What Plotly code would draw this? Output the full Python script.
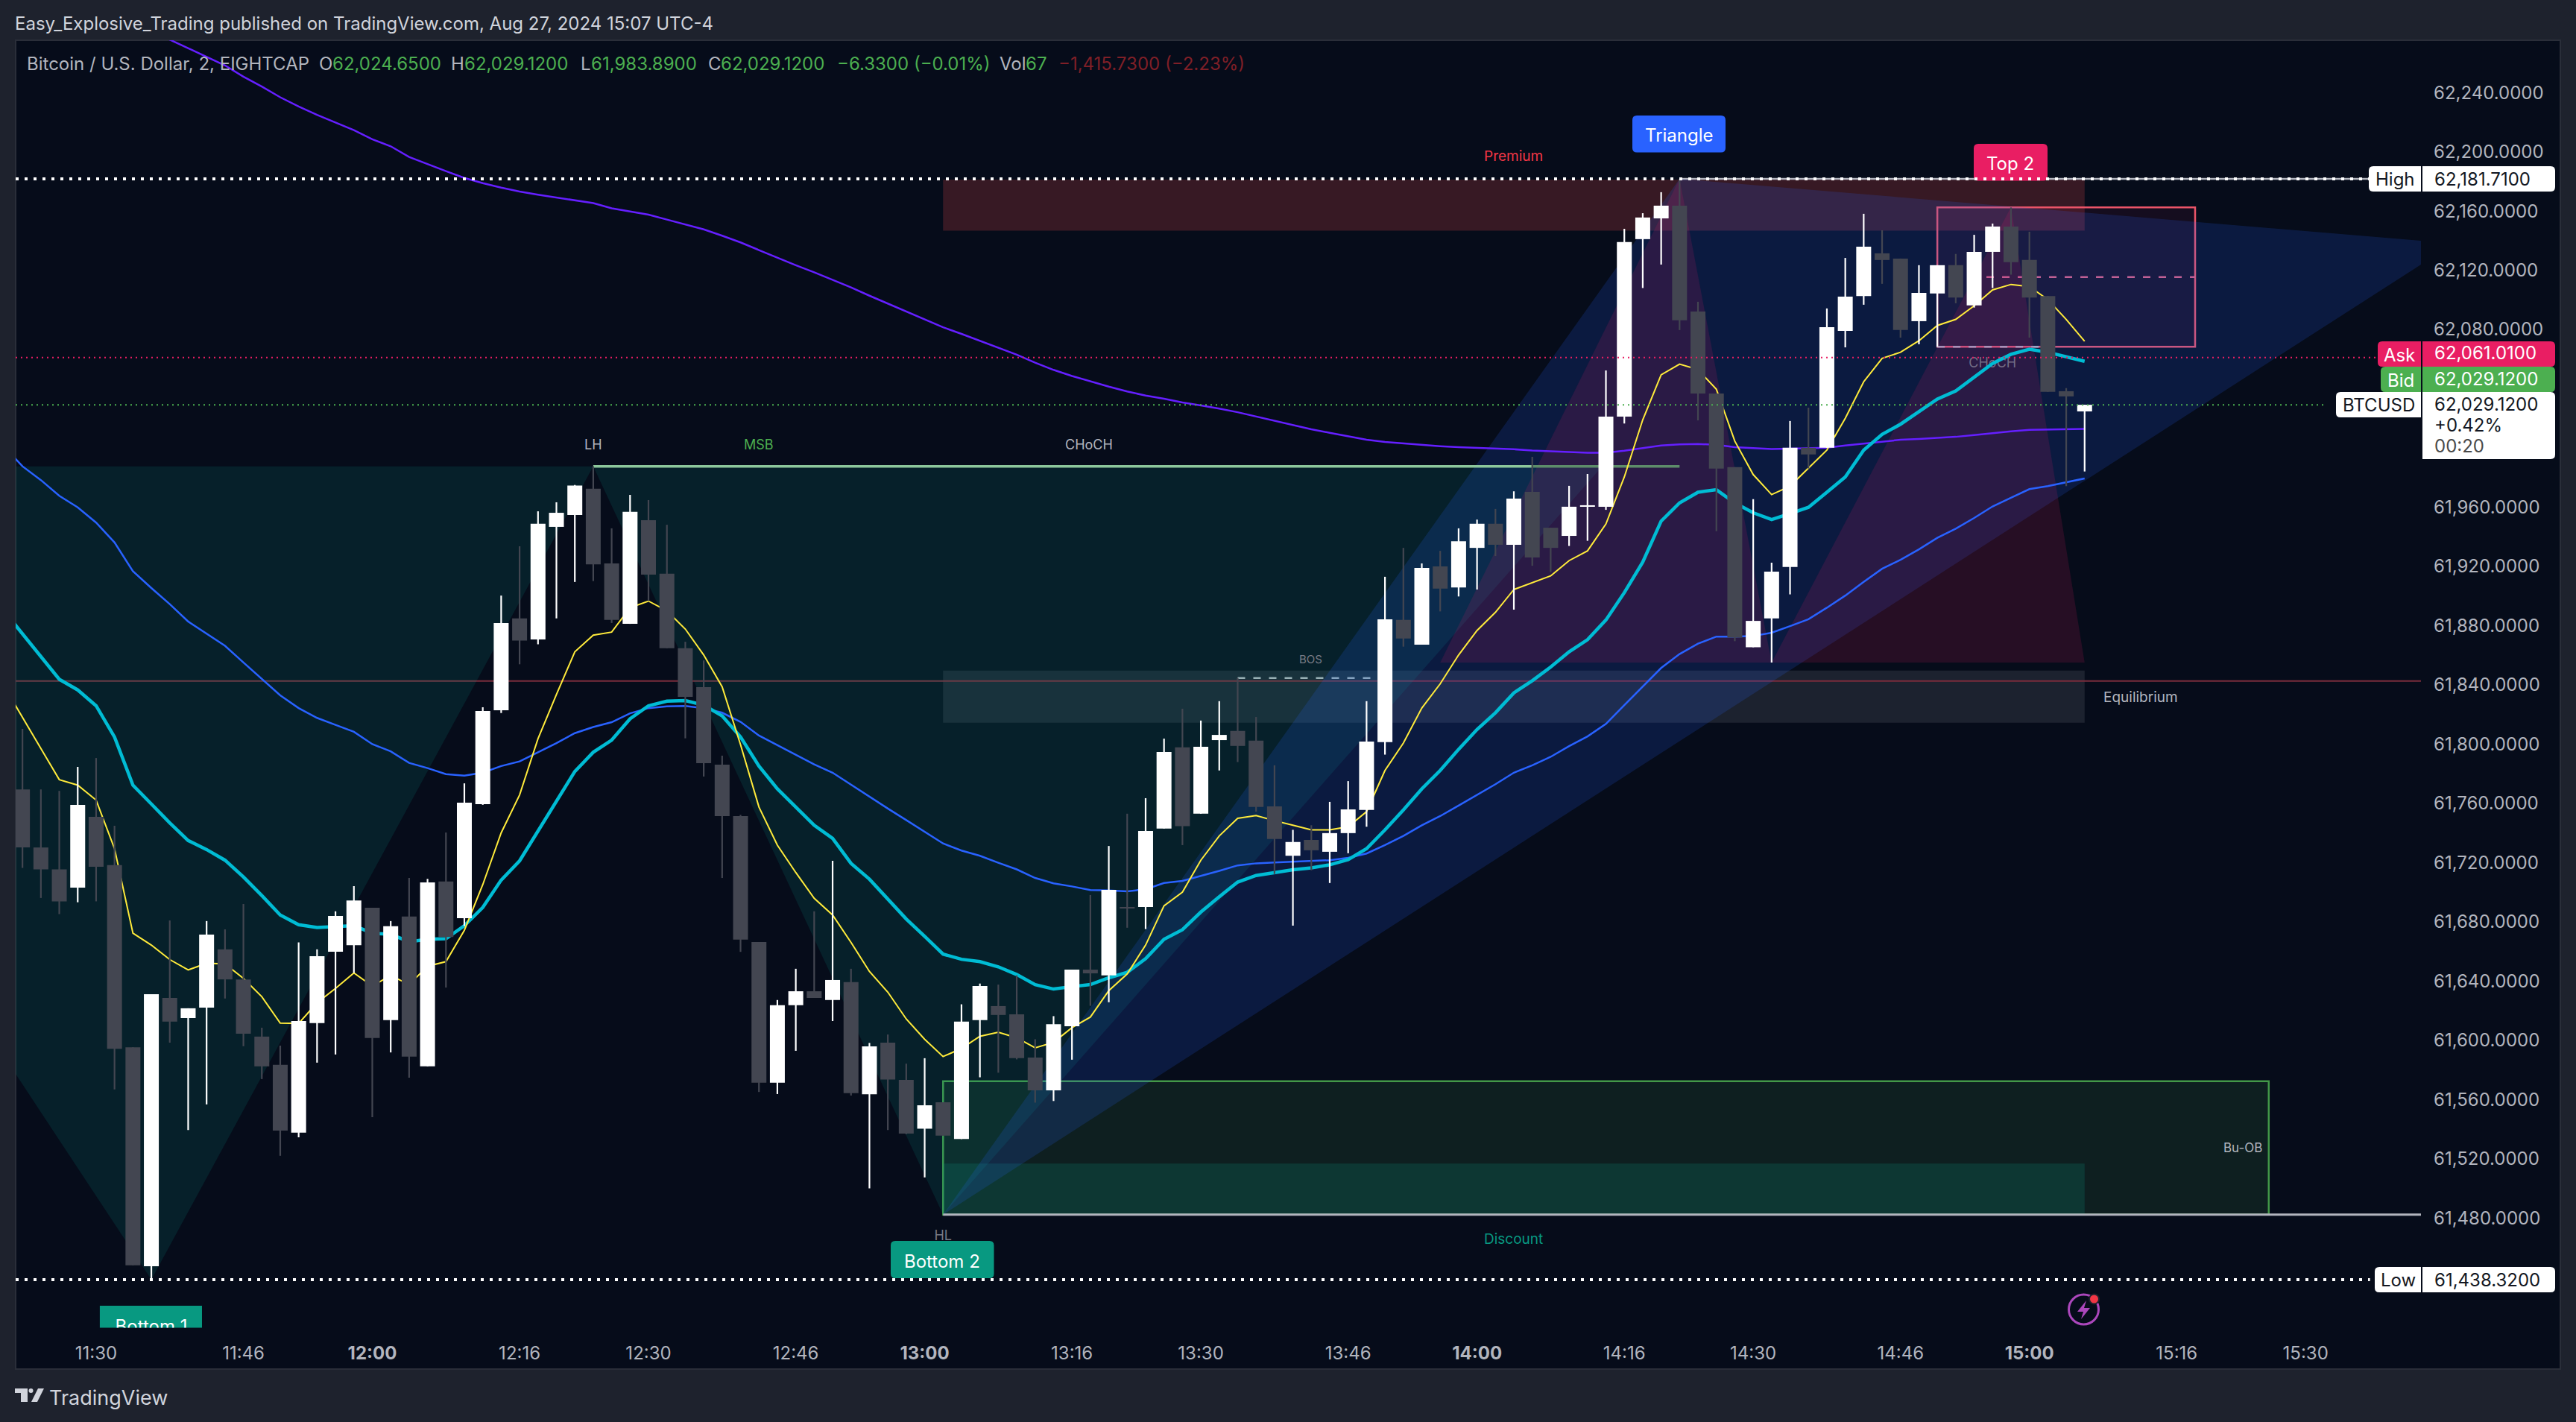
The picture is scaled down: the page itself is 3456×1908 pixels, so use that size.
#! /usr/bin/env python
#-*- coding: utf8 -*-

import pandas as pd
import plotly.graph_objects as go

W = 3456
H = 1908
# chart frame in page pixels
PANEL_L, PANEL_R, PANEL_T, PANEL_B = 21, 3435, 54, 1837
PANE_R = 3248
PANE_B = 1781.5

PANEL = "#060c1a"
FRAME = "#1e222d"
LABEL = "#b2b5be"
GREEN = "#4caf50"
PINK = "#e91e63"
TEAL = "#089981"
UP = "#ffffff"
DOWN = "#434651"
FONT = "Inter"

candle_open = [
    61769.4, 61730.2, 61715.4, 61703.1, 61750.9, 61718.3, 61595.3, 61447.4, 61628.6, 61615.0,
    61622.0, 61661.4, 61641.1, 61602.5, 61583.4, 61537.6, 61611.6, 61659.8, 61664.2, 61689.5,
    61613.6, 61683.6, 61582.4, 61707.2, 61682.5, 61759.4, 61822.8, 61884.9, 61870.7, 61946.7,
    61954.7, 61972.4, 61922.0, 61881.2, 61951.2, 61915.1, 61864.7, 61838.4, 61786.1, 61751.4,
    61666.3, 61571.3, 61623.7, 61633.1, 61627.2, 61639.3, 61563.5, 61598.4, 61573.3, 61540.3,
    61558.1, 61533.3, 61613.6, 61623.1, 61617.5, 61588.3, 61566.2, 61609.5, 61647.7, 61643.8,
    61690.0, 61690.0, 61743.0, 61797.8, 61753.0, 61802.7, 61808.9, 61802.3, 61757.9, 61724.6,
    61735.3, 61727.3, 61739.9, 61755.5, 61801.3, 61883.9, 61867.2, 61920.0, 61905.8, 61932.5,
    61948.8, 61934.6, 61970.3, 61946.1, 61940.6, 61960.5, 61960.3, 62021.1, 62141.0, 62155.0,
    62163.6, 62092.1, 62036.7, 61987.0, 61865.4, 61884.9, 61919.6, 62000.1, 62000.1, 62079.0,
    62102.6, 62131.4, 62127.9, 62085.6, 62104.3, 62123.4, 62096.3, 62132.4, 62149.5, 62126.9,
    62102.6, 62038.3, 62024.65,
]
candle_high = [
    61810.3, 61769.4, 61768.4, 61784.6, 61790.6, 61744.8, 61595.3, 61631.1, 61680.9, 61621.6,
    61680.5, 61674.9, 61692.0, 61608.5, 61596.4, 61666.1, 61661.4, 61687.1, 61704.1, 61689.5,
    61680.5, 61709.6, 61709.0, 61740.3, 61773.5, 61824.9, 61900.3, 61933.6, 61957.2, 61963.3,
    61975.0, 61987.6, 61945.7, 61968.3, 61964.8, 61948.1, 61869.1, 61856.5, 61792.2, 61752.2,
    61666.3, 61627.2, 61648.3, 61687.1, 61721.2, 61648.3, 61598.2, 61603.9, 61584.2, 61587.9,
    61558.1, 61624.3, 61638.3, 61637.6, 61643.8, 61600.7, 61616.3, 61647.7, 61698.1, 61731.2,
    61753.0, 61763.5, 61803.7, 61823.9, 61815.9, 61829.0, 61844.6, 61818.3, 61785.7, 61742.1,
    61745.2, 61761.0, 61775.0, 61829.0, 61913.0, 61932.5, 61922.0, 61930.5, 61945.7, 61951.6,
    61958.8, 61970.7, 61994.0, 61946.1, 61974.4, 61982.4, 62052.3, 62148.0, 62158.5, 62172.7,
    62181.71, 62098.7, 62036.7, 61987.0, 61965.4, 61922.5, 62018.2, 62027.2, 62094.2, 62128.3,
    62158.1, 62147.0, 62127.9, 62123.4, 62123.4, 62131.0, 62143.9, 62151.5, 62162.4, 62146.0,
    62102.6, 62040.4, 62029.12,
]
candle_low = [
    61716.4, 61696.1, 61685.2, 61693.2, 61693.8, 61566.8, 61448.0, 61438.32, 61598.4, 61539.4,
    61556.7, 61628.2, 61596.0, 61573.8, 61522.0, 61534.5, 61584.9, 61590.4, 61645.5, 61548.1,
    61591.8, 61574.8, 61582.4, 61635.6, 61677.2, 61759.0, 61821.0, 61853.9, 61867.4, 61884.9,
    61909.5, 61910.1, 61881.8, 61881.2, 61896.6, 61864.7, 61803.9, 61778.1, 61709.6, 61659.7,
    61565.1, 61563.7, 61592.9, 61628.6, 61613.0, 61562.7, 61500.0, 61539.4, 61536.6, 61507.4,
    61535.6, 61533.3, 61575.0, 61578.1, 61587.1, 61557.9, 61559.0, 61586.9, 61623.3, 61625.7,
    61676.0, 61675.1, 61743.0, 61731.8, 61753.0, 61782.2, 61787.9, 61754.4, 61712.3, 61677.4,
    61714.8, 61706.2, 61726.3, 61744.2, 61792.9, 61865.8, 61867.2, 61889.6, 61899.7, 61904.4,
    61927.0, 61890.8, 61920.4, 61916.3, 61933.8, 61937.3, 61958.2, 62016.5, 62108.0, 62123.8,
    62079.6, 62018.6, 61943.8, 61869.5, 61865.4, 61855.1, 61901.1, 61986.1, 62000.1, 62067.9,
    62096.7, 62110.8, 62074.5, 62070.0, 62068.3, 62097.7, 62094.8, 62108.0, 62117.0, 62074.5,
    62037.9, 61974.2, 61984.1,
]
candle_close = [
    61730.2, 61715.4, 61693.8, 61758.9, 61717.2, 61594.3, 61448.0, 61631.1, 61612.6, 61621.6,
    61671.4, 61641.1, 61604.4, 61582.4, 61539.0, 61613.0, 61656.8, 61684.0, 61694.4, 61601.5,
    61677.0, 61589.0, 61706.6, 61669.8, 61760.4, 61822.4, 61881.8, 61869.9, 61948.8, 61956.2,
    61974.6, 61921.4, 61883.9, 61956.8, 61914.5, 61864.7, 61831.9, 61787.1, 61751.4, 61668.0,
    61571.3, 61623.7, 61633.1, 61628.6, 61640.7, 61564.3, 61595.9, 61573.5, 61537.0, 61556.1,
    61535.6, 61612.6, 61636.6, 61617.1, 61588.0, 61566.2, 61610.9, 61647.7, 61645.2, 61701.6,
    61689.1, 61741.3, 61794.7, 61744.6, 61798.2, 61806.2, 61798.8, 61757.5, 61735.9, 61733.9,
    61728.3, 61739.9, 61755.9, 61801.7, 61884.3, 61871.3, 61919.0, 61905.0, 61937.0, 61948.8,
    61934.6, 61965.8, 61926.0, 61932.5, 61960.3, 61961.3, 62021.1, 62139.0, 62155.6, 62163.6,
    62086.2, 62036.7, 61986.1, 61871.9, 61883.2, 61916.5, 62000.1, 61995.6, 62081.5, 62102.2,
    62135.9, 62126.9, 62079.6, 62104.7, 62123.4, 62101.6, 62132.4, 62149.5, 62125.4, 62101.6,
    62037.9, 62034.8, 62029.12,
]

# moving averages, read bar by bar, first bar 11:20
ma_yellow = [
    61839.1, 61818.1, 61796.9, 61776.0, 61772.3, 61762.2, 61729.4, 61672.3, 61664.3, 61654.5,
    61647.5, 61652.0, 61651.6, 61641.8, 61629.4, 61611.6, 61611.4, 61625.3, 61635.0, 61645.5,
    61636.6, 61643.8, 61637.6, 61650.0, 61653.1, 61674.3, 61705.1, 61740.1, 61765.7, 61803.7,
    61833.5, 61862.3, 61873.6, 61875.6, 61892.1, 61896.6, 61890.0, 61877.7, 61860.2, 61838.7,
    61799.6, 61757.5, 61731.8, 61713.3, 61695.9, 61684.6, 61666.1, 61646.5, 61632.5, 61614.4,
    61600.7, 61589.0, 61594.5, 61602.7, 61605.4, 61601.7, 61594.9, 61598.6, 61608.5, 61615.7,
    61633.5, 61644.8, 61664.3, 61690.8, 61700.0, 61721.6, 61738.0, 61749.9, 61751.8, 61748.3,
    61745.2, 61742.1, 61742.1, 61744.2, 61754.4, 61782.2, 61800.7, 61824.3, 61840.7, 61860.2,
    61876.7, 61889.0, 61904.4, 61908.9, 61913.6, 61923.9, 61930.5, 61948.6, 61980.4, 62019.0,
    62049.4, 62056.6, 62052.9, 62039.6, 62004.6, 61982.0, 61968.5, 61974.2, 61986.1, 61998.5,
    62020.0, 62044.7, 62060.5, 62064.6, 62072.4, 62082.7, 62086.8, 62096.0, 62106.7, 62110.4,
    62109.0, 62100.2, 62086.8, 62072.0,
]
ma_cyan = [
    61889.8, 61874.2, 61859.2, 61843.8, 61836.6, 61825.9, 61804.8, 61772.3, 61759.6, 61746.8,
    61734.9, 61728.8, 61721.6, 61710.3, 61697.7, 61684.6, 61678.0, 61676.2, 61676.8, 61677.4,
    61672.3, 61671.6, 61666.5, 61668.2, 61668.6, 61677.4, 61689.7, 61708.2, 61721.2, 61741.1,
    61761.6, 61781.5, 61794.5, 61802.7, 61817.1, 61825.9, 61829.0, 61829.4, 61826.3, 61819.1,
    61804.8, 61785.2, 61769.8, 61757.5, 61745.2, 61736.4, 61719.5, 61708.8, 61695.5, 61681.9,
    61670.2, 61658.2, 61654.7, 61653.1, 61649.6, 61644.4, 61637.6, 61634.6, 61636.2, 61637.6,
    61642.2, 61645.9, 61655.1, 61668.2, 61674.7, 61686.6, 61696.9, 61706.8, 61711.3, 61713.3,
    61715.2, 61716.4, 61718.5, 61722.0, 61729.4, 61742.1, 61755.5, 61769.8, 61782.2, 61796.5,
    61809.9, 61821.2, 61834.6, 61842.8, 61852.0, 61862.3, 61870.5, 61883.8, 61902.3, 61922.9,
    61950.6, 61962.9, 61970.1, 61971.8, 61962.9, 61956.2, 61951.6, 61955.7, 61959.9, 61970.1,
    61980.4, 61998.5, 62009.2, 62016.0, 62024.8, 62033.0, 62038.5, 62047.8, 62057.0, 62063.2,
    62066.7, 62064.6, 62061.7, 62058.5,
]
ma_blue = [
    62001.0, 61987.6, 61978.3, 61967.7, 61959.9, 61949.6, 61936.2, 61916.7, 61905.4, 61894.5,
    61882.8, 61874.6, 61866.4, 61855.1, 61843.8, 61832.9, 61824.3, 61817.7, 61813.0, 61808.3,
    61800.0, 61795.1, 61787.3, 61783.8, 61779.7, 61778.7, 61780.7, 61785.2, 61788.3, 61794.5,
    61800.7, 61807.4, 61811.5, 61814.8, 61820.8, 61824.3, 61825.5, 61825.7, 61824.3, 61821.2,
    61815.0, 61805.8, 61799.2, 61793.0, 61786.3, 61780.7, 61772.5, 61764.3, 61756.5, 61748.7,
    61740.9, 61732.9, 61728.1, 61724.6, 61719.9, 61715.4, 61709.6, 61706.0, 61703.9, 61701.4,
    61701.2, 61700.6, 61702.0, 61706.2, 61707.6, 61710.9, 61714.4, 61718.1, 61719.5, 61720.1,
    61720.5, 61721.2, 61721.6, 61723.2, 61726.1, 61731.8, 61738.0, 61745.2, 61751.4, 61758.5,
    61765.7, 61772.9, 61780.7, 61785.7, 61791.4, 61798.6, 61805.2, 61813.6, 61826.3, 61839.1,
    61851.4, 61860.8, 61867.8, 61872.6, 61872.6, 61873.0, 61875.2, 61879.7, 61884.3, 61892.1,
    61900.3, 61909.5, 61918.4, 61924.5, 61931.5, 61939.3, 61945.5, 61952.7, 61960.5, 61966.4,
    61972.2, 61974.2, 61976.7, 61979.4,
]
# purple enters through the top of the pane, first bar 11:36
ma_purple = [
    62281.5, 62275.8, 62270.0, 62264.1, 62258.3, 62250.7, 62244.0, 62236.8, 62230.6, 62224.9,
    62219.9, 62214.6, 62208.4, 62203.7, 62196.5, 62191.6, 62186.9, 62182.3, 62178.8, 62175.8,
    62173.1, 62171.0, 62169.0, 62167.1, 62165.3, 62161.8, 62159.5, 62157.5, 62154.2, 62150.9,
    62147.6, 62143.3, 62138.8, 62133.6, 62128.3, 62123.4, 62118.6, 62113.5, 62108.4, 62102.8,
    62097.5, 62092.1, 62086.8, 62081.5, 62077.0, 62072.4, 62067.9, 62063.0, 62057.6, 62052.7,
    62048.6, 62044.9, 62041.4, 62038.1, 62035.4, 62033.2, 62030.7, 62028.7, 62026.6, 62024.1,
    62021.3, 62018.4, 62015.5, 62012.6, 62010.2, 62007.7, 62005.5, 62004.0, 62003.0, 62002.0,
    62001.2, 62000.5, 62000.1, 61999.7, 61999.1, 61998.3, 61997.7, 61997.2, 61996.8, 61996.8,
    61998.1, 61999.9, 62001.6, 62002.4, 62002.6, 62002.2, 62000.5, 61999.9, 61999.3, 61999.5,
    61999.7, 62000.1, 62001.6, 62003.0, 62004.4, 62005.5, 62006.1, 62006.7, 62007.5, 62008.7,
    62010.0, 62011.2, 62012.2, 62012.4, 62012.6, 62012.9,
]

# price levels
high_price = 62181.71
low_price = 61438.32
ask_price = 62061.01
bid_price = 62029.12
eq_price = 61842.6
msb_price = 61987.6
hl_price = 61482.3
top_price = 62162.6
bos_price = 61844.6
fib_low = 61855.1

# 62,040 / 62,000 / 61,440 are covered by the price tags on the scale
price_ticks = [61480, 61520, 61560, 61600, 61640, 61680, 61720, 61760, 61800, 61840, 61880,
               61920, 61960, 62080, 62120, 62160, 62200, 62240]
time_ticks = ["11:30", "11:46", "12:00", "12:16", "12:30", "12:46", "13:00", "13:16", "13:30",
              "13:46", "14:00", "14:16", "14:30", "14:46", "15:00", "15:16", "15:30"]
hour_ticks = ["12:00", "13:00", "14:00", "15:00"]

DAY = "2024-08-27 "
X_START = DAY + "11:21:15.6"
X_END = DAY + "15:42:32"
Y_BOT = 61405.9
Y_TOP = 62275.3
BODY_MS = 97200  # body width, 81% of a 2 minute bar


def px_x(px):
    return (px - PANEL_L) / (PANEL_R - PANEL_L)


def px_y(py):
    return 1 - (py - PANEL_T) / (PANEL_B - PANEL_T)


def clock(s):
    return DAY + s


shapes = []
notes = []


def rect_px(x0, y0, x1, y1, color):
    shapes.append(dict(type="rect", xref="paper", yref="paper", x0=px_x(x0), x1=px_x(x1),
                       y0=px_y(y0), y1=px_y(y1), fillcolor=color, line_width=0, layer="above"))


def box_px(x0, y0, x1, y1, color, r=6, left=True, right=True):
    # rounded tag, page pixels
    rl = r if left else 0
    rr = r if right else 0
    pts = [
        "M%f,%f" % (px_x(x0 + rl), px_y(y0)),
        "L%f,%f" % (px_x(x1 - rr), px_y(y0)),
        "Q%f,%f %f,%f" % (px_x(x1), px_y(y0), px_x(x1), px_y(y0 + rr)),
        "L%f,%f" % (px_x(x1), px_y(y1 - rr)),
        "Q%f,%f %f,%f" % (px_x(x1), px_y(y1), px_x(x1 - rr), px_y(y1)),
        "L%f,%f" % (px_x(x0 + rl), px_y(y1)),
        "Q%f,%f %f,%f" % (px_x(x0), px_y(y1), px_x(x0), px_y(y1 - rl)),
        "L%f,%f" % (px_x(x0), px_y(y0 + rl)),
        "Q%f,%f %f,%f Z" % (px_x(x0), px_y(y0), px_x(x0 + rl), px_y(y0)),
    ]
    shapes.append(dict(type="path", xref="paper", yref="paper", path=" ".join(pts),
                       fillcolor=color, line_width=0, layer="above"))


def poly_px(points, color):
    p = "M" + " L".join("%f,%f" % (px_x(a), px_y(b)) for a, b in points) + " Z"
    shapes.append(dict(type="path", xref="paper", yref="paper", path=p,
                       fillcolor=color, line_width=0, layer="above"))


def text_px(px, py, s, size=24, color=LABEL, anchor="left"):
    notes.append(dict(xref="paper", yref="paper", x=px_x(px), y=px_y(py), text=s, showarrow=False,
                      xanchor=anchor, yanchor="middle", borderpad=0, borderwidth=0,
                      font=dict(family=FONT, size=size, color=color)))


def zone(t0, t1, v0, v1, color, line=None):
    shapes.append(dict(type="rect", xref="x", yref="y", x0=clock(t0), x1=clock(t1), y0=v0, y1=v1,
                       fillcolor=color, line=line or dict(width=0), layer="below"))


def level(t0, t1, v, color, width=2, dash="solid", layer="below"):
    shapes.append(dict(type="line", xref="x", yref="y", x0=t0, x1=t1, y0=v, y1=v, layer=layer,
                       line=dict(color=color, width=width, dash=dash)))


fig = go.Figure()


def fill_poly(times, prices, color):
    fig.add_trace(go.Scatter(x=[clock(t) for t in times], y=prices, mode="lines", fill="toself",
                             fillcolor=color, line=dict(width=0), hoverinfo="skip", showlegend=False))


def price_text(t, v, s, size, color):
    fig.add_trace(go.Scatter(x=[clock(t)], y=[v], mode="text", text=[s], hoverinfo="skip", showlegend=False,
                             textfont=dict(family=FONT, size=size, color=color)))


# frame
shapes.append(dict(type="rect", xref="paper", yref="paper", x0=0, x1=1, y0=0, y1=1, fillcolor=PANEL,
                   line=dict(color="#2a2e39", width=2), layer="below"))

# order blocks and premium / discount zones
zone("13:02", "15:06", 62181.2, 62146.7, "rgba(255,82,82,0.2)")
zone("13:02", "15:06", 61849.6, 61814.4, "rgba(120,123,134,0.2)")
zone("13:02", "15:26", 61572.3, 61482.3, "rgba(76,175,80,0.12)", dict(color="rgba(76,175,80,0.85)", width=2.5))
zone("13:02", "15:06", 61516.8, 61482.6, "rgba(8,153,129,0.2)")
zone("14:50", "15:18", 62162.4, 62068.3, "rgba(233,30,99,0.07)", dict(color="#ea5468", width=2.5))

level(X_START, DAY + "15:42:32", eq_price, "#7a2c3c", 2)
level(clock("13:02"), X_END, hl_price, LABEL, 3)
level(clock("14:22"), X_END, high_price, LABEL, 2.5)
level(clock("14:55:20"), clock("15:18"), 62115.4, "#df5f80", 2.5, "10px,11px")
level(clock("14:50"), clock("15:01"), 62068.3, LABEL, 2.5, "10px,11px")
level(clock("13:34"), clock("13:50"), bos_price, LABEL, 2.5, "10px,11px")

# harmonic pattern fills
fill_poly(["11:21:15", "12:24", "11:36", "11:21:15"], [msb_price, msb_price, low_price, 61577.3], "rgba(8,150,136,0.15)")
fill_poly(["12:24", "14:13:36", "13:02"], [msb_price, msb_price, hl_price], "rgba(8,150,136,0.15)")
fill_poly(["13:02", "14:22", "15:42:32", "15:42:32"], [hl_price, high_price, 62139.9, 62123.8], "rgba(41,98,255,0.17)")
fill_poly(["13:56", "14:22", "14:32"], [fib_low, high_price, fib_low], "rgba(233,30,99,0.14)")
fill_poly(["14:32", "14:58", "15:06"], [fib_low, top_price, fib_low], "rgba(233,30,99,0.14)")

# small labels that sit under the lines or the tags
price_text("14:56", 62056.4, "CHoCH", 18, "rgba(178,181,190,0.55)")
price_text("13:02", 61467.1, "HL", 18, "#787b86")
price_text("11:36", 61405.5, "Bottom 1", 24, "#ffffff")

bar_times = pd.date_range(DAY + "11:22", periods=len(candle_open), freq="2min")
ma_times = pd.date_range(DAY + "11:20", periods=len(ma_yellow), freq="2min")
purple_times = pd.date_range(DAY + "11:36", periods=len(ma_purple), freq="2min")

fig.add_trace(go.Scatter(x=[clock("12:24"), clock("14:06")], y=[msb_price, msb_price], mode="lines",
                         line=dict(color="#8cc79b", width=3.5), hoverinfo="skip", showlegend=False))
fig.add_trace(go.Scatter(x=[clock("14:06"), clock("14:22")], y=[msb_price, msb_price], mode="lines",
                         line=dict(color="#5d8c6a", width=3.5), hoverinfo="skip", showlegend=False))

fig.add_trace(go.Scatter(x=purple_times, y=ma_purple, mode="lines", line=dict(color="#651fff", width=2.5),
                         hoverinfo="skip", showlegend=False))
fig.add_trace(go.Scatter(x=ma_times, y=ma_blue, mode="lines", line=dict(color="#2962ff", width=2.5),
                         hoverinfo="skip", showlegend=False))
fig.add_trace(go.Scatter(x=ma_times, y=ma_cyan, mode="lines", line=dict(color="#00bcd4", width=4.5),
                         hoverinfo="skip", showlegend=False))
fig.add_trace(go.Scatter(x=ma_times, y=ma_yellow, mode="lines", line=dict(color="#ffeb3b", width=2),
                         hoverinfo="skip", showlegend=False))

# candles go on an overlaying axis so they sit over every other trace
body_base = [min(a, b) for a, b in zip(candle_open, candle_close)]
body_size = [max(abs(a - b), 0.8) for a, b in zip(candle_open, candle_close)]
body_color = [UP if b >= a else DOWN for a, b in zip(candle_open, candle_close)]

for color in [DOWN, UP]:
    wx = []
    wy = []
    for t, a, b, hi, lo in zip(bar_times, candle_open, candle_close, candle_high, candle_low):
        if (UP if b >= a else DOWN) == color:
            wx += [t, t, None]
            wy += [lo, hi, None]
    fig.add_trace(go.Scatter(x=wx, y=wy, mode="lines", yaxis="y2", line=dict(color=color, width=2.2),
                             hoverinfo="skip", showlegend=False))

# bars sit under scatter in one subplot, so the bodies get the top axis of their own
fig.add_trace(go.Bar(x=bar_times, y=body_size, base=body_base, width=BODY_MS, yaxis="y3",
                     marker=dict(color=body_color, line=dict(width=0)), hoverinfo="skip", showlegend=False))

# pattern tags
box_px(2190, 155, 2315, 204.5, "#2962ff")
text_px(2252.5, 181.5, "Triangle", 24, "#ffffff", "center")
box_px(2648, 193, 2747, 242.5, PINK)
text_px(2697, 219.5, "Top 2", 24, "#ffffff", "center")
box_px(1195, 1665, 1333.5, 1715, TEAL)
text_px(1264, 1692.5, "Bottom 2", 24, "#ffffff", "center")
shapes.append(dict(type="rect", xref="x", yref="y", x0=clock("11:30:24"), x1=clock("11:41:30"),
                   y0=61380, y1=61420.8, fillcolor=TEAL, line_width=0, layer="below"))

# price lines on top of everything in the pane
level(X_START, clock("15:37"), high_price, "#ffffff", 4, "4px,8px", "above")
level(X_START, clock("15:37"), low_price, "#ffffff", 4, "4px,8px", "above")
level(X_START, clock("15:38"), ask_price, PINK, 2, "2px,5px", "above")
level(X_START, clock("15:32"), bid_price, GREEN, 2, "2px,5px", "above")

# pane texts
text_px(2030, 209.5, "Premium", 19, "#f23645", "center")
text_px(2030, 1662, "Discount", 19, TEAL, "center")
text_px(2822, 935.5, "Equilibrium", 19, LABEL)
text_px(796, 596, "LH", 18, LABEL, "center")
text_px(1018, 596, "MSB", 18, GREEN, "center")
text_px(1461, 596, "CHoCH", 18, LABEL, "center")
text_px(1758, 885, "BOS", 15, "#787b86", "center")
text_px(3009, 1540, "Bu-OB", 17, LABEL, "center")

# symbol legend
text_px(36, 85.5, "Bitcoin / U.S. Dollar, 2, EIGHTCAP", 24, LABEL)
text_px(428, 85.5, "O", 24, LABEL)
text_px(446, 85.5, "62,024.6500", 24, GREEN)
text_px(605, 85.5, "H", 24, LABEL)
text_px(623, 85.5, "62,029.1200", 24, GREEN)
text_px(779, 85.5, "L", 24, LABEL)
text_px(793, 85.5, "61,983.8900", 24, GREEN)
text_px(950, 85.5, "C", 24, LABEL)
text_px(967, 85.5, "62,029.1200", 24, GREEN)
text_px(1123, 85.5, "\u22126.3300 (\u22120.01%)", 24, GREEN)
text_px(1341, 85.5, "Vol", 24, LABEL)
text_px(1376, 85.5, "67", 24, GREEN)
text_px(1420, 85.5, "\u22121,415.7300 (\u22122.23%)", 24, "#7f1f27")

# page header and footer
text_px(20, 32, "Easy_Explosive_Trading published on TradingView.com, Aug 27, 2024 15:07 UTC-4", 24, "#d1d4dc")
text_px(66, 1875, "TradingView", 27, "#d1d4dc")
poly_px([(20, 1863), (37, 1863), (37, 1881), (28, 1881), (28, 1869), (20, 1869)], "#d1d4dc")
poly_px([(51, 1863), (59, 1863), (50, 1881), (42, 1881)], "#d1d4dc")
shapes.append(dict(type="circle", xref="paper", yref="paper", x0=px_x(38.5), x1=px_x(44.5), y0=px_y(1863), y1=px_y(1869),
                   fillcolor="#d1d4dc", line_width=0, layer="above"))

# price scale tags
VAL_X = 3266
box_px(3178, 223, 3248, 257, "#ffffff", left=True, right=False)
box_px(3250, 223, 3428, 257, "#ffffff", left=False, right=True)
text_px(3213.5, 240, "High", 24, "#131722", "center")
text_px(VAL_X, 240, "62,181.7100", 24, "#131722")

box_px(3186, 1700, 3248, 1734, "#ffffff", left=True, right=False)
box_px(3250, 1700, 3428, 1734, "#ffffff", left=False, right=True)
text_px(3217, 1717.5, "Low", 24, "#131722", "center")
text_px(VAL_X, 1717, "61,438.3200", 24, "#131722")

box_px(3190, 458, 3248, 492, PINK, left=True, right=False)
box_px(3250, 458, 3428, 492, PINK, left=False, right=True)
text_px(3219, 476, "Ask", 24, "#ffffff", "center")
text_px(VAL_X, 474, "62,061.0100", 24, "#ffffff")

box_px(3194, 492, 3248, 526, GREEN, left=True, right=False)
box_px(3250, 492, 3428, 526, GREEN, left=False, right=True)
text_px(3221, 510, "Bid", 24, "#ffffff", "center")
text_px(VAL_X, 508, "62,029.1200", 24, "#ffffff")

box_px(3134, 526, 3248, 560, "#ffffff", left=True, right=False)
box_px(3250, 526, 3428, 616, "#ffffff", left=False, right=True)
text_px(3191, 543.5, "BTCUSD", 24, "#131722", "center")
text_px(VAL_X, 542.5, "62,029.1200", 24, "#131722")
text_px(VAL_X, 570.5, "+0.42%", 24, "#131722")
text_px(VAL_X, 598.5, "00:20", 24, "#4a4a4a")

# bolt badge next to the last bar
shapes.append(dict(type="circle", xref="paper", yref="paper", x0=px_x(2775.5), x1=px_x(2815.5), y0=px_y(1737), y1=px_y(1777),
                   fillcolor=PANEL, line=dict(color="#ab47bc", width=3), layer="above"))
poly_px([(2799, 1745), (2787, 1760), (2795, 1760), (2792, 1770), (2804, 1755), (2796, 1755)], "#ab47bc")
shapes.append(dict(type="circle", xref="paper", yref="paper", x0=px_x(2803), x1=px_x(2816), y0=px_y(1736.5), y1=px_y(1749.5),
                   fillcolor="#f23645", line=dict(color="#1e222d", width=2), layer="above"))

tick_text = ["<b>%s</b>" % t if t in hour_ticks else t for t in time_ticks]

fig.update_layout(
    width=W, height=H,
    margin=dict(l=PANEL_L, r=W - PANEL_R, t=PANEL_T, b=H - PANEL_B, pad=0),
    paper_bgcolor=FRAME, plot_bgcolor=PANEL,
    font=dict(family=FONT, color=LABEL, size=24),
    showlegend=False, hovermode=False,
    shapes=shapes, annotations=notes,
    xaxis=dict(domain=[0, (PANE_R - PANEL_L) / (PANEL_R - PANEL_L)], range=[X_START, X_END], type="date",
               tickmode="array", tickvals=[clock(t) for t in time_ticks], ticktext=tick_text,
               showgrid=False, zeroline=False, showline=False, ticks="",
               ticklabelstandoff=17, tickfont=dict(family=FONT, size=24, color=LABEL)),
    yaxis=dict(domain=[(PANEL_B - PANE_B) / (PANEL_B - PANEL_T), 1], range=[Y_BOT, Y_TOP], side="right",
               tickmode="array", tickvals=price_ticks, tickformat=",.4f",
               showgrid=False, zeroline=False, showline=False, ticks="",
               ticklabelstandoff=16, tickfont=dict(family=FONT, size=24, color=LABEL)),
    yaxis2=dict(overlaying="y", side="right", range=[Y_BOT, Y_TOP], showgrid=False, zeroline=False,
                showticklabels=False, ticks=""),
    yaxis3=dict(overlaying="y", side="right", range=[Y_BOT, Y_TOP], showgrid=False, zeroline=False,
                showticklabels=False, ticks=""),
)

fig.write_html("out.html", config=dict(displayModeBar=False),
               post_script="document.body.style.margin='0';document.body.style.overflow='hidden';")
